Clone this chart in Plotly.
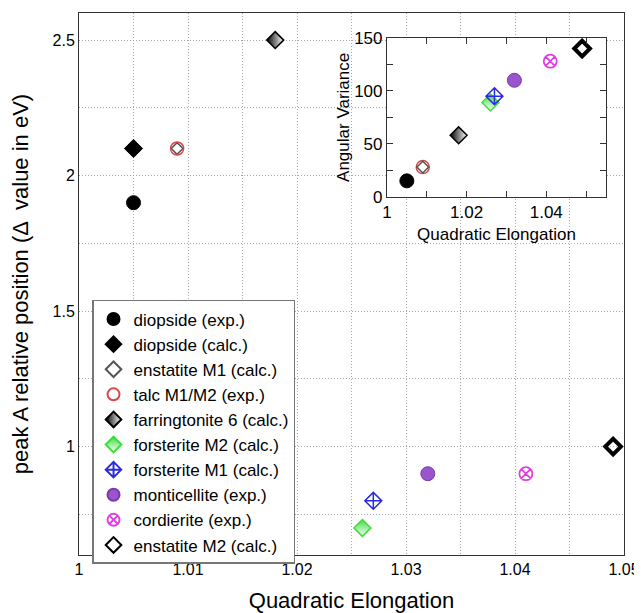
import plotly.graph_objects as go

# ---- data ----
names = ["diopside (exp.)", "diopside (calc.)", "enstatite M1 (calc.)", "talc M1/M2 (exp.)",
         "farringtonite 6 (calc.)", "forsterite M2 (calc.)", "forsterite M1 (calc.)",
         "monticellite (exp.)", "cordierite (exp.)", "enstatite M2 (calc.)"]
qe = [1.005, 1.005, 1.009, 1.009, 1.018, 1.026, 1.027, 1.032, 1.041, 1.049]
peak_a = [1.9, 2.1, 2.1, 2.1, 2.5, 0.7, 0.8, 0.9, 0.9, 1.0]
# inset: angular variance (one value per polyhedron, diopside listed once)
inset_qe = [1.005, 1.009, 1.009, 1.018, 1.026, 1.027, 1.032, 1.041, 1.049]
inset_av = [15, 28, 28, 58, 89, 95, 110, 128, 140]
inset_idx = [0, 3, 2, 4, 5, 6, 7, 8, 9]

x_ticks = [1.0, 1.01, 1.02, 1.03, 1.04, 1.05]
x_ticktext = ["1", "1.01", "1.02", "1.03", "1.04", "1.05"]
y_ticks = [1.0, 1.5, 2.0, 2.5]
y_ticktext = ["1", "1.5", "2", "2.5"]
x2_ticks = [1.0, 1.02, 1.04]
x2_ticktext = ["1", "1.02", "1.04"]
y2_ticks = [0, 50, 100, 150]

styles = [
    dict(symbol="circle", color="black", size=14, line=dict(color="black", width=1)),
    dict(symbol="diamond", color="black", size=14, line=dict(color="black", width=1)),
    dict(symbol="diamond-open", color="#555555", size=9, line=dict(color="#555555", width=1.5)),
    dict(symbol="circle-open", color="#d24a4a", size=13, line=dict(color="#d24a4a", width=1.5)),
    dict(symbol="diamond", color="black", size=13, gradient=dict(type="horizontal", color="white"),
         line=dict(color="black", width=1.5)),
    dict(symbol="diamond", color="#3ddc3d", size=13, gradient=dict(type="vertical", color="white"),
         line=dict(color="#3ddc3d", width=1.5)),
    dict(symbol="diamond-cross-open", color="#2a2ae0", size=13, line=dict(color="#2a2ae0", width=1.5)),
    dict(symbol="circle", color="#9a55cc", size=14, line=dict(color="#7a3aa8", width=1)),
    dict(symbol="circle-x-open", color="#e040e0", size=13, line=dict(color="#e040e0", width=1.8)),
    dict(symbol="diamond-open", color="black", size=12, line=dict(color="black", width=4)),
]

fig = go.Figure()
for i, n in enumerate(names):
    fig.add_trace(go.Scatter(x=[qe[i]], y=[peak_a[i]], mode="markers", name=n,
                             marker=styles[i], legendgroup=n, xaxis="x", yaxis="y"))

for k, i in enumerate(inset_idx):
    fig.add_trace(go.Scatter(x=[inset_qe[k]], y=[inset_av[k]], mode="markers", name=names[i],
                             marker=styles[i], legendgroup=names[i], showlegend=False,
                             xaxis="x2", yaxis="y2"))

font = "Liberation Sans, Arial, sans-serif"
grid = dict(gridcolor="#a8a8a8", griddash="1px,2px", gridwidth=1)
fig.update_layout(
    width=634, height=605,
    margin=dict(l=71, r=18, t=5, b=58),
    paper_bgcolor="white", plot_bgcolor="white",
    font=dict(family=font, size=16, color="black"),
    showlegend=True,
    legend=dict(x=0.0239, y=0.4705, xanchor="left", yanchor="top",
                bgcolor="white", bordercolor="#777777", borderwidth=1.5,
                font=dict(size=17), tracegroupgap=0, itemsizing="constant"),
    xaxis=dict(range=[1.0, 1.05], tickvals=x_ticks, ticktext=x_ticktext, showgrid=True, **grid,
               minor=dict(dtick=0.005, showgrid=True, **grid),
               showline=True, linecolor="#333333", linewidth=1, mirror=True,
               zeroline=False, ticks="", tickfont=dict(size=16), automargin=False,
               ticklabeloverflow="allow",
               title=dict(text="Quadratic Elongation", font=dict(size=22), standoff=16)),
    yaxis=dict(range=[0.6, 2.6], tickvals=y_ticks, ticktext=y_ticktext, showgrid=True, **grid,
               minor=dict(dtick=0.25, showgrid=True, **grid),
               showline=True, linecolor="#333333", linewidth=1, mirror=True,
               zeroline=False, ticks="", tickfont=dict(size=16), automargin=False,
               title=dict(text="peak A relative position (\u0394  value in eV)", font=dict(size=22), standoff=18)),
    xaxis2=dict(domain=[0.565, 0.967], anchor="y2", range=[1.0, 1.055],
                tickvals=x2_ticks, ticktext=x2_ticktext,
                showgrid=False, zeroline=False, showline=True, linecolor="#333333",
                linewidth=1, mirror="allticks", ticks="inside", ticklen=6, tickcolor="#333333",
                minor=dict(dtick=0.01, tick0=1.0, ticks="inside", ticklen=6, tickcolor="#333333"),
                tickfont=dict(size=17), automargin=False,
                title=dict(text="Quadratic Elongation", font=dict(size=17), standoff=6)),
    yaxis2=dict(domain=[0.661, 0.954], anchor="x2", range=[0, 150], tickvals=y2_ticks,
                showgrid=False, zeroline=False, showline=True, linecolor="#333333",
                linewidth=1, mirror="allticks", ticks="inside", ticklen=6, tickcolor="#333333",
                minor=dict(dtick=25, ticks="inside", ticklen=6, tickcolor="#333333"),
                tickfont=dict(size=17), automargin=False,
                title=dict(text="Angular Variance", font=dict(size=17), standoff=0)),
)

fig.write_html("out.html")
